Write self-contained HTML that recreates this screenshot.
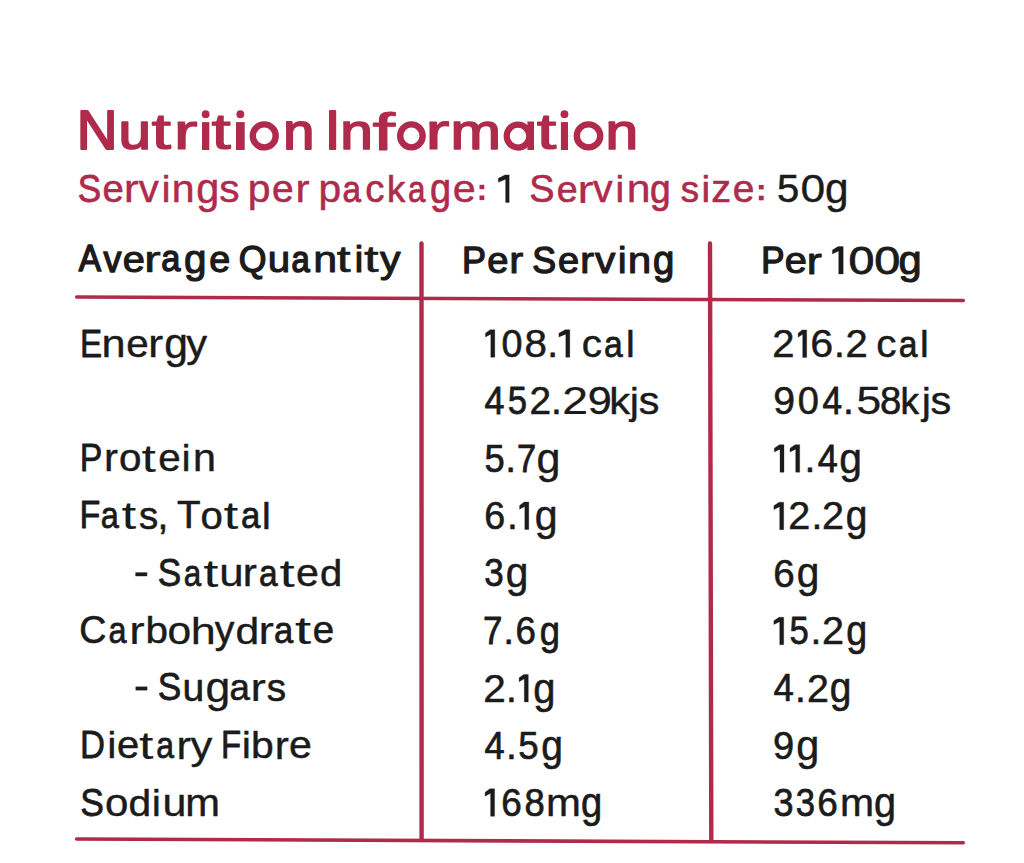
<!DOCTYPE html>
<html><head><meta charset="utf-8"><style>
html,body{margin:0;padding:0;background:#fff;}
svg{display:block;font-family:"Liberation Sans",sans-serif;}
</style></head><body>
<svg width="1024" height="863" viewBox="0 0 1024 863">
<rect width="1024" height="863" fill="#fff"/>
<line x1="76.6" y1="297" x2="963.4" y2="300.5" stroke="#AF2A4B" stroke-width="3.4" stroke-linecap="round"/>
<line x1="76.6" y1="839" x2="963.2" y2="842.8" stroke="#AF2A4B" stroke-width="3.6" stroke-linecap="round"/>
<line x1="421.5" y1="243.5" x2="421.6" y2="840" stroke="#AF2A4B" stroke-width="4.4" stroke-linecap="round"/>
<line x1="710" y1="243.5" x2="711.3" y2="841" stroke="#AF2A4B" stroke-width="4.4" stroke-linecap="round"/>
<g font-size="54.58" fill="#AF2A4B" stroke="#AF2A4B" stroke-linejoin="round"><text font-size="54.75" transform="translate(76.80 149.00) scale(1.031 1.000)" stroke-width="2.01">N</text><text font-size="54.92" transform="translate(118.59 149.14) scale(1.064 0.910)" stroke-width="1.89">u</text><text font-size="55.78" transform="translate(151.56 149.41) scale(1.264 0.910)" stroke-width="1.30">t</text><text font-size="55.89" transform="translate(173.39 149.45) scale(1.298 0.910)" stroke-width="1.22">r</text><text font-size="55.72" transform="translate(211.40 149.39) scale(1.249 0.910)" stroke-width="1.34">t</text><text font-size="54.69" transform="translate(283.35 149.07) scale(1.021 0.910)" stroke-width="2.04">n</text></g>
<g font-size="54.58" fill="#AF2A4B" stroke="#AF2A4B" stroke-linejoin="round"><text font-size="54.58" transform="translate(325.01 148.94) scale(1.000 1.000)" stroke-width="2.12">I</text><text font-size="54.94" transform="translate(340.31 149.15) scale(1.068 0.910)" stroke-width="1.87">n</text><text font-size="56.40" transform="translate(372.34 149.60) scale(1.466 0.910)" stroke-width="0.87">f</text><text font-size="55.92" transform="translate(425.35 149.45) scale(1.306 0.910)" stroke-width="1.20">r</text><text font-size="55.10" transform="translate(450.56 149.20) scale(1.100 0.910)" stroke-width="1.77">m</text><text font-size="55.78" transform="translate(536.76 149.41) scale(1.264 0.910)" stroke-width="1.30">t</text><text font-size="54.94" transform="translate(605.41 149.15) scale(1.068 0.910)" stroke-width="1.87">n</text></g>
<g font-size="39.10" fill="#AF2A4B" stroke="#AF2A4B" stroke-linejoin="round"><text font-size="38.80" transform="translate(77.84 202.01) scale(0.905 1.000)" stroke-width="0.79">S</text><text font-size="39.03" transform="translate(102.50 202.10) scale(0.980 0.970)" stroke-width="0.62">e</text><text font-size="39.53" transform="translate(123.84 202.26) scale(1.147 0.970)" stroke-width="0.29">r</text><text font-size="39.18" transform="translate(138.80 202.15) scale(1.026 0.970)" stroke-width="0.52">v</text><text font-size="39.10" transform="translate(161.81 202.13) scale(1.000 0.950)" stroke-width="0.58">i</text><text font-size="39.24" transform="translate(171.84 202.17) scale(1.044 0.970)" stroke-width="0.48">n</text><text font-size="39.27" transform="translate(196.20 203.08) scale(1.054 1.067)" stroke-width="0.46">g</text><text font-size="39.21" transform="translate(219.22 202.16) scale(1.035 0.970)" stroke-width="0.50">s</text></g>
<g font-size="39.10" fill="#AF2A4B" stroke="#AF2A4B" stroke-linejoin="round"><text font-size="39.24" transform="translate(247.68 202.17) scale(1.045 0.970)" stroke-width="0.48">p</text><text font-size="39.09" transform="translate(271.96 202.12) scale(0.997 0.970)" stroke-width="0.59">e</text><text font-size="39.34" transform="translate(295.41 202.20) scale(1.076 0.970)" stroke-width="0.42">r</text></g>
<g font-size="39.10" fill="#AF2A4B" stroke="#AF2A4B" stroke-linejoin="round"><text font-size="39.23" transform="translate(318.60 202.16) scale(1.039 0.970)" stroke-width="0.49">p</text><text font-size="38.80" transform="translate(342.44 202.02) scale(0.859 0.970)" stroke-width="0.79">a</text><text font-size="39.05" transform="translate(365.29 202.10) scale(0.983 0.970)" stroke-width="0.62">c</text><text font-size="38.90" transform="translate(387.09 202.06) scale(0.942 0.950)" stroke-width="0.72">k</text><text font-size="38.80" transform="translate(408.10 202.02) scale(0.806 0.970)" stroke-width="0.79">a</text><text font-size="39.01" transform="translate(429.92 202.99) scale(0.972 1.067)" stroke-width="0.64">g</text><text font-size="39.27" transform="translate(452.70 202.17) scale(1.052 0.970)" stroke-width="0.46">e</text></g>
<g font-size="39.10" fill="#1B1B1B" stroke="#1B1B1B" stroke-linejoin="round"></g>
<g font-size="39.10" fill="#AF2A4B" stroke="#AF2A4B" stroke-linejoin="round"><text font-size="39.00" transform="translate(529.18 202.28) scale(0.971 1.000)" stroke-width="0.65">S</text><text font-size="38.98" transform="translate(556.75 202.28) scale(0.964 0.970)" stroke-width="0.67">e</text><text font-size="39.77" transform="translate(577.14 202.54) scale(1.252 0.970)" stroke-width="0.12">r</text><text font-size="39.12" transform="translate(593.03 202.32) scale(1.004 0.970)" stroke-width="0.57">v</text><text font-size="39.10" transform="translate(615.56 202.33) scale(1.000 0.950)" stroke-width="0.58">i</text><text font-size="39.37" transform="translate(626.78 202.41) scale(1.087 0.970)" stroke-width="0.39">n</text><text font-size="38.94" transform="translate(650.07 203.17) scale(0.955 1.067)" stroke-width="0.69">g</text></g>
<g font-size="39.10" fill="#AF2A4B" stroke="#AF2A4B" stroke-linejoin="round"><text font-size="38.90" transform="translate(680.82 202.25) scale(0.944 0.970)" stroke-width="0.71">s</text><text font-size="39.10" transform="translate(701.46 202.33) scale(1.000 0.950)" stroke-width="0.58">i</text><text font-size="39.15" transform="translate(711.25 202.34) scale(1.015 0.970)" stroke-width="0.55">z</text><text font-size="39.09" transform="translate(732.76 202.32) scale(0.997 0.970)" stroke-width="0.59">e</text></g>
<g font-size="39.10" fill="#1B1B1B" stroke="#1B1B1B" stroke-linejoin="round"><text font-size="39.17" transform="translate(777.07 202.33) scale(1.021 1.000)" stroke-width="0.53">5</text><text font-size="39.48" transform="translate(800.43 202.44) scale(1.127 1.000)" stroke-width="0.32">0</text><text font-size="39.34" transform="translate(825.03 203.30) scale(1.077 1.067)" stroke-width="0.41">g</text></g>
<g font-size="37.94" fill="#1B1B1B" stroke="#1B1B1B" stroke-linejoin="round"><text font-size="37.47" transform="translate(78.66 271.40) scale(0.891 1.000)" stroke-width="1.60">A</text><text font-size="37.73" transform="translate(103.44 271.51) scale(0.950 0.970)" stroke-width="1.42">v</text><text font-size="38.10" transform="translate(122.73 271.63) scale(1.044 0.970)" stroke-width="1.17">e</text><text font-size="38.81" transform="translate(144.05 271.87) scale(1.295 0.970)" stroke-width="0.68">r</text><text font-size="37.58" transform="translate(161.27 271.46) scale(0.915 0.970)" stroke-width="1.52">a</text><text font-size="38.16" transform="translate(184.09 272.55) scale(1.061 1.067)" stroke-width="1.13">g</text><text font-size="37.91" transform="translate(209.26 271.57) scale(0.994 0.970)" stroke-width="1.30">e</text></g>
<g font-size="37.94" fill="#1B1B1B" stroke="#1B1B1B" stroke-linejoin="round"><text font-size="37.71" transform="translate(238.81 271.68) scale(0.945 1.000)" stroke-width="1.43">Q</text><text font-size="38.14" transform="translate(267.68 271.85) scale(1.056 0.970)" stroke-width="1.14">u</text><text font-size="37.39" transform="translate(291.47 271.60) scale(0.875 0.970)" stroke-width="1.66">a</text><text font-size="38.34" transform="translate(313.31 271.91) scale(1.118 0.970)" stroke-width="1.00">n</text><text font-size="38.78" transform="translate(336.74 272.06) scale(1.283 0.970)" stroke-width="0.70">t</text><text font-size="37.94" transform="translate(354.84 271.79) scale(1.000 0.950)" stroke-width="1.28">i</text><text font-size="38.93" transform="translate(363.94 272.11) scale(1.350 0.970)" stroke-width="0.60">t</text><text font-size="38.21" transform="translate(379.96 271.87) scale(1.076 0.970)" stroke-width="1.10">y</text></g>
<g font-size="37.94" fill="#1B1B1B" stroke="#1B1B1B" stroke-linejoin="round"><text font-size="37.75" transform="translate(461.93 273.10) scale(0.953 1.000)" stroke-width="1.41">P</text><text font-size="37.96" transform="translate(487.13 273.19) scale(1.005 0.970)" stroke-width="1.27">e</text><text font-size="38.28" transform="translate(509.17 273.29) scale(1.098 0.970)" stroke-width="1.05">r</text></g>
<g font-size="37.94" fill="#1B1B1B" stroke="#1B1B1B" stroke-linejoin="round"><text font-size="37.72" transform="translate(532.24 273.19) scale(0.947 1.000)" stroke-width="1.43">S</text><text font-size="37.93" transform="translate(558.05 273.28) scale(0.999 0.970)" stroke-width="1.28">e</text><text font-size="38.32" transform="translate(579.93 273.41) scale(1.110 0.970)" stroke-width="1.02">r</text><text font-size="38.17" transform="translate(594.92 273.36) scale(1.066 0.970)" stroke-width="1.12">v</text><text font-size="37.94" transform="translate(617.99 273.29) scale(1.000 0.950)" stroke-width="1.28">i</text><text font-size="38.30" transform="translate(627.86 273.40) scale(1.105 0.970)" stroke-width="1.03">n</text><text font-size="37.97" transform="translate(653.02 274.19) scale(1.009 1.067)" stroke-width="1.26">g</text></g>
<g font-size="37.94" fill="#1B1B1B" stroke="#1B1B1B" stroke-linejoin="round"><text font-size="37.62" transform="translate(761.35 273.25) scale(0.924 1.000)" stroke-width="1.50">P</text><text font-size="38.10" transform="translate(784.83 273.43) scale(1.044 0.970)" stroke-width="1.17">e</text><text font-size="38.58" transform="translate(806.49 273.59) scale(1.203 0.970)" stroke-width="0.84">r</text></g>
<g font-size="37.94" fill="#1B1B1B" stroke="#1B1B1B" stroke-linejoin="round"><text font-size="38.59" transform="translate(848.46 273.58) scale(1.206 1.000)" stroke-width="0.83">0</text><text font-size="38.61" transform="translate(874.15 273.59) scale(1.212 1.000)" stroke-width="0.82">0</text><text font-size="38.25" transform="translate(898.41 274.38) scale(1.090 1.067)" stroke-width="1.06">g</text></g>
<g font-size="39.10" fill="#1B1B1B" stroke="#1B1B1B" stroke-linejoin="round"><text font-size="38.80" transform="translate(79.91 356.71) scale(0.857 1.000)" stroke-width="0.79">E</text><text font-size="39.40" transform="translate(101.43 356.92) scale(1.100 0.970)" stroke-width="0.37">n</text><text font-size="39.20" transform="translate(126.16 356.85) scale(1.030 0.970)" stroke-width="0.51">e</text><text font-size="39.56" transform="translate(148.10 356.97) scale(1.159 0.970)" stroke-width="0.26">r</text><text font-size="39.36" transform="translate(164.22 357.80) scale(1.083 1.067)" stroke-width="0.40">g</text><text font-size="39.29" transform="translate(186.31 356.88) scale(1.061 0.970)" stroke-width="0.45">y</text></g>
<g font-size="39.10" fill="#1B1B1B" stroke="#1B1B1B" stroke-linejoin="round"><text font-size="38.99" transform="translate(501.55 356.87) scale(0.969 1.000)" stroke-width="0.65">0</text><text font-size="39.20" transform="translate(524.62 356.94) scale(1.030 1.000)" stroke-width="0.51">8</text><text font-size="39.10" transform="translate(547.21 356.91) scale(1.000 1.000)" stroke-width="0.58">.</text><text font-size="39.21" transform="translate(581.66 356.95) scale(1.032 0.970)" stroke-width="0.51">c</text><text font-size="38.80" transform="translate(603.93 356.82) scale(0.868 0.970)" stroke-width="0.79">a</text><text font-size="39.10" transform="translate(626.01 356.93) scale(1.000 0.950)" stroke-width="0.58">l</text></g>
<g font-size="39.10" fill="#1B1B1B" stroke="#1B1B1B" stroke-linejoin="round"><text font-size="39.17" transform="translate(772.16 357.14) scale(1.022 1.000)" stroke-width="0.53">2</text><text font-size="39.26" transform="translate(810.34 357.17) scale(1.051 1.000)" stroke-width="0.47">6</text><text font-size="39.10" transform="translate(834.11 357.11) scale(1.000 1.000)" stroke-width="0.58">.</text><text font-size="39.17" transform="translate(845.56 357.14) scale(1.022 1.000)" stroke-width="0.53">2</text><text font-size="39.21" transform="translate(876.36 357.15) scale(1.032 0.970)" stroke-width="0.51">c</text><text font-size="38.80" transform="translate(898.63 357.02) scale(0.868 0.970)" stroke-width="0.79">a</text><text font-size="39.10" transform="translate(919.96 357.13) scale(1.000 0.950)" stroke-width="0.58">l</text></g>
<g font-size="39.10" fill="#1B1B1B" stroke="#1B1B1B" stroke-linejoin="round"><text font-size="38.83" transform="translate(484.54 413.62) scale(0.924 1.000)" stroke-width="0.77">4</text><text font-size="38.80" transform="translate(507.87 413.61) scale(0.892 1.000)" stroke-width="0.79">5</text><text font-size="39.08" transform="translate(529.55 413.70) scale(0.994 1.000)" stroke-width="0.59">2</text><text font-size="39.10" transform="translate(550.91 413.71) scale(1.000 1.000)" stroke-width="0.58">.</text><text font-size="39.59" transform="translate(562.21 413.88) scale(1.172 1.000)" stroke-width="0.24">2</text><text font-size="39.40" transform="translate(587.66 413.81) scale(1.099 1.000)" stroke-width="0.37">9</text><text font-size="39.30" transform="translate(609.13 413.79) scale(1.064 0.950)" stroke-width="0.44">k</text><text font-size="39.10" transform="translate(630.04 413.73) scale(1.000 0.950)" stroke-width="0.58">j</text><text font-size="39.27" transform="translate(638.68 413.78) scale(1.053 0.970)" stroke-width="0.46">s</text></g>
<g font-size="39.10" fill="#1B1B1B" stroke="#1B1B1B" stroke-linejoin="round"><text font-size="39.11" transform="translate(773.14 413.91) scale(1.003 1.000)" stroke-width="0.57">9</text><text font-size="39.01" transform="translate(797.73 413.88) scale(0.974 1.000)" stroke-width="0.64">0</text><text font-size="38.80" transform="translate(822.55 413.81) scale(0.909 1.000)" stroke-width="0.79">4</text><text font-size="39.10" transform="translate(842.96 413.91) scale(1.000 1.000)" stroke-width="0.58">.</text><text font-size="39.47" transform="translate(856.49 414.04) scale(1.126 1.000)" stroke-width="0.32">5</text><text font-size="39.03" transform="translate(879.96 413.89) scale(0.980 1.000)" stroke-width="0.62">8</text><text font-size="38.92" transform="translate(900.57 413.87) scale(0.948 0.950)" stroke-width="0.70">k</text><text font-size="39.10" transform="translate(921.89 413.93) scale(1.000 0.950)" stroke-width="0.58">j</text><text font-size="39.29" transform="translate(930.47 413.98) scale(1.059 0.970)" stroke-width="0.45">s</text></g>
<g font-size="39.10" fill="#1B1B1B" stroke="#1B1B1B" stroke-linejoin="round"><text font-size="38.80" transform="translate(79.87 471.21) scale(0.873 1.000)" stroke-width="0.79">P</text><text font-size="39.30" transform="translate(103.96 471.39) scale(1.065 0.970)" stroke-width="0.44">r</text><text font-size="39.20" transform="translate(119.06 471.35) scale(1.031 0.970)" stroke-width="0.51">o</text><text font-size="39.88" transform="translate(141.62 471.58) scale(1.303 0.970)" stroke-width="0.05">t</text><text font-size="39.20" transform="translate(158.16 471.35) scale(1.030 0.970)" stroke-width="0.51">e</text><text font-size="39.10" transform="translate(181.81 471.33) scale(1.000 0.950)" stroke-width="0.58">i</text><text font-size="39.26" transform="translate(193.02 471.37) scale(1.050 0.970)" stroke-width="0.47">n</text></g>
<g font-size="39.10" fill="#1B1B1B" stroke="#1B1B1B" stroke-linejoin="round"><text font-size="38.86" transform="translate(484.40 471.63) scale(0.933 1.000)" stroke-width="0.74">5</text><text font-size="39.10" transform="translate(505.21 471.71) scale(1.000 1.000)" stroke-width="0.58">.</text><text font-size="38.80" transform="translate(516.89 471.61) scale(0.889 1.000)" stroke-width="0.79">7</text><text font-size="39.39" transform="translate(536.59 472.72) scale(1.095 1.067)" stroke-width="0.38">g</text></g>
<g font-size="39.10" fill="#1B1B1B" stroke="#1B1B1B" stroke-linejoin="round"><text font-size="39.10" transform="translate(804.46 471.91) scale(1.000 1.000)" stroke-width="0.58">.</text><text font-size="38.85" transform="translate(817.73 471.82) scale(0.929 1.000)" stroke-width="0.75">4</text><text font-size="39.24" transform="translate(839.33 472.86) scale(1.042 1.067)" stroke-width="0.49">g</text></g>
<g font-size="39.10" fill="#1B1B1B" stroke="#1B1B1B" stroke-linejoin="round"><text font-size="38.80" transform="translate(79.44 528.41) scale(0.881 1.000)" stroke-width="0.79">F</text><text font-size="38.80" transform="translate(100.76 528.42) scale(0.839 0.970)" stroke-width="0.79">a</text><text font-size="39.93" transform="translate(121.40 528.80) scale(1.331 0.970)" stroke-width="0.01">t</text><text font-size="39.06" transform="translate(139.12 528.50) scale(0.986 0.970)" stroke-width="0.61">s</text><text font-size="39.10" transform="translate(157.41 528.51) scale(1.000 1.000)" stroke-width="0.58">,</text><text font-size="39.05" transform="translate(177.06 528.49) scale(0.986 1.000)" stroke-width="0.61">T</text><text font-size="39.18" transform="translate(200.58 528.55) scale(1.026 0.970)" stroke-width="0.52">o</text><text font-size="39.94" transform="translate(223.60 528.80) scale(1.340 0.970)" stroke-width="0.00">t</text><text font-size="38.80" transform="translate(240.89 528.42) scale(0.897 0.970)" stroke-width="0.79">a</text><text font-size="39.10" transform="translate(262.11 528.53) scale(1.000 0.950)" stroke-width="0.58">l</text></g>
<g font-size="39.10" fill="#1B1B1B" stroke="#1B1B1B" stroke-linejoin="round"><text font-size="38.98" transform="translate(484.30 529.17) scale(0.966 1.000)" stroke-width="0.66">6</text><text font-size="39.10" transform="translate(507.06 529.21) scale(1.000 1.000)" stroke-width="0.58">.</text><text font-size="39.25" transform="translate(534.71 530.17) scale(1.048 1.067)" stroke-width="0.47">g</text></g>
<g font-size="39.10" fill="#1B1B1B" stroke="#1B1B1B" stroke-linejoin="round"><text font-size="39.14" transform="translate(788.30 529.42) scale(1.011 1.000)" stroke-width="0.55">2</text><text font-size="39.10" transform="translate(811.41 529.41) scale(1.000 1.000)" stroke-width="0.58">.</text><text font-size="39.14" transform="translate(822.00 529.42) scale(1.011 1.000)" stroke-width="0.55">2</text><text font-size="39.09" transform="translate(845.76 530.31) scale(0.996 1.067)" stroke-width="0.59">g</text></g>
<g font-size="39.10" fill="#1B1B1B" stroke="#1B1B1B" stroke-linejoin="round"><text font-size="38.80" transform="translate(157.74 586.21) scale(0.909 1.000)" stroke-width="0.79">S</text><text font-size="38.80" transform="translate(183.80 586.22) scale(0.810 0.970)" stroke-width="0.79">a</text><text font-size="39.94" transform="translate(203.28 586.60) scale(1.369 0.970)" stroke-width="0.00">t</text><text font-size="39.44" transform="translate(219.23 586.43) scale(1.112 0.970)" stroke-width="0.35">u</text><text font-size="39.34" transform="translate(242.81 586.40) scale(1.076 0.970)" stroke-width="0.42">r</text><text font-size="38.80" transform="translate(258.93 586.22) scale(0.863 0.970)" stroke-width="0.79">a</text><text font-size="39.94" transform="translate(279.47 586.60) scale(1.379 0.970)" stroke-width="0.00">t</text><text font-size="39.25" transform="translate(295.92 586.37) scale(1.047 0.970)" stroke-width="0.48">e</text><text font-size="39.16" transform="translate(320.09 586.35) scale(1.019 0.950)" stroke-width="0.54">d</text></g>
<g font-size="39.10" fill="#1B1B1B" stroke="#1B1B1B" stroke-linejoin="round"><text font-size="38.80" transform="translate(484.32 586.31) scale(0.902 1.000)" stroke-width="0.79">3</text><text font-size="39.22" transform="translate(505.75 587.36) scale(1.037 1.067)" stroke-width="0.50">g</text></g>
<g font-size="39.10" fill="#1B1B1B" stroke="#1B1B1B" stroke-linejoin="round"><text font-size="39.06" transform="translate(773.33 586.50) scale(0.988 1.000)" stroke-width="0.61">6</text><text font-size="39.22" transform="translate(796.65 587.46) scale(1.037 1.067)" stroke-width="0.50">g</text></g>
<g font-size="39.10" fill="#1B1B1B" stroke="#1B1B1B" stroke-linejoin="round"><text font-size="38.97" transform="translate(79.21 643.37) scale(0.963 1.000)" stroke-width="0.67">C</text><text font-size="38.80" transform="translate(108.47 643.32) scale(0.835 0.970)" stroke-width="0.79">a</text><text font-size="39.59" transform="translate(129.15 643.58) scale(1.170 0.970)" stroke-width="0.25">r</text><text font-size="39.20" transform="translate(145.47 643.46) scale(1.031 0.950)" stroke-width="0.51">b</text><text font-size="39.35" transform="translate(167.42 643.50) scale(1.081 0.970)" stroke-width="0.41">o</text><text font-size="39.51" transform="translate(190.65 643.56) scale(1.139 0.950)" stroke-width="0.30">h</text><text font-size="39.11" transform="translate(214.87 643.42) scale(1.003 0.970)" stroke-width="0.57">y</text><text font-size="39.36" transform="translate(235.52 643.51) scale(1.083 0.950)" stroke-width="0.40">d</text><text font-size="39.59" transform="translate(258.45 643.58) scale(1.170 0.970)" stroke-width="0.25">r</text><text font-size="38.80" transform="translate(274.00 643.32) scale(0.892 0.970)" stroke-width="0.79">a</text><text font-size="39.94" transform="translate(294.71 643.70) scale(1.487 0.970)" stroke-width="0.00">t</text><text font-size="39.05" transform="translate(312.79 643.40) scale(0.986 0.970)" stroke-width="0.61">e</text></g>
<g font-size="39.10" fill="#1B1B1B" stroke="#1B1B1B" stroke-linejoin="round"><text font-size="38.80" transform="translate(482.97 644.31) scale(0.900 1.000)" stroke-width="0.79">7</text><text font-size="39.10" transform="translate(503.16 644.41) scale(1.000 1.000)" stroke-width="0.58">.</text><text font-size="38.90" transform="translate(515.57 644.34) scale(0.943 1.000)" stroke-width="0.72">6</text><text font-size="38.88" transform="translate(539.82 645.24) scale(0.937 1.067)" stroke-width="0.73">g</text></g>
<g font-size="39.10" fill="#1B1B1B" stroke="#1B1B1B" stroke-linejoin="round"><text font-size="38.80" transform="translate(789.47 644.31) scale(0.892 1.000)" stroke-width="0.79">5</text><text font-size="39.10" transform="translate(810.51 644.41) scale(1.000 1.000)" stroke-width="0.58">.</text><text font-size="39.14" transform="translate(822.00 644.42) scale(1.011 1.000)" stroke-width="0.55">2</text><text font-size="38.99" transform="translate(846.34 645.28) scale(0.966 1.067)" stroke-width="0.66">g</text></g>
<g font-size="39.10" fill="#1B1B1B" stroke="#1B1B1B" stroke-linejoin="round"><text font-size="38.80" transform="translate(157.74 700.41) scale(0.909 1.000)" stroke-width="0.79">S</text><text font-size="39.10" transform="translate(182.45 700.52) scale(1.000 0.970)" stroke-width="0.58">u</text><text font-size="39.48" transform="translate(205.59 701.55) scale(1.130 1.067)" stroke-width="0.32">g</text><text font-size="38.89" transform="translate(229.61 700.45) scale(0.941 0.970)" stroke-width="0.72">a</text><text font-size="39.59" transform="translate(250.45 700.68) scale(1.170 0.970)" stroke-width="0.25">r</text><text font-size="39.08" transform="translate(266.71 700.51) scale(0.992 0.970)" stroke-width="0.60">s</text></g>
<g font-size="39.10" fill="#1B1B1B" stroke="#1B1B1B" stroke-linejoin="round"><text font-size="39.21" transform="translate(483.13 701.65) scale(1.034 1.000)" stroke-width="0.50">2</text><text font-size="39.10" transform="translate(506.06 701.61) scale(1.000 1.000)" stroke-width="0.58">.</text><text font-size="39.16" transform="translate(533.29 702.54) scale(1.019 1.067)" stroke-width="0.54">g</text></g>
<g font-size="39.10" fill="#1B1B1B" stroke="#1B1B1B" stroke-linejoin="round"><text font-size="38.89" transform="translate(773.41 701.44) scale(0.939 1.000)" stroke-width="0.73">4</text><text font-size="39.10" transform="translate(795.06 701.51) scale(1.000 1.000)" stroke-width="0.58">.</text><text font-size="39.12" transform="translate(806.92 701.52) scale(1.005 1.000)" stroke-width="0.57">2</text><text font-size="39.09" transform="translate(829.66 702.41) scale(0.996 1.067)" stroke-width="0.59">g</text></g>
<g font-size="39.10" fill="#1B1B1B" stroke="#1B1B1B" stroke-linejoin="round"><text font-size="38.80" transform="translate(80.11 758.31) scale(0.892 1.000)" stroke-width="0.79">D</text><text font-size="39.10" transform="translate(107.61 758.43) scale(1.000 0.950)" stroke-width="0.58">i</text><text font-size="39.16" transform="translate(117.09 758.44) scale(1.019 0.970)" stroke-width="0.54">e</text><text font-size="39.88" transform="translate(138.92 758.68) scale(1.303 0.970)" stroke-width="0.05">t</text><text font-size="38.80" transform="translate(156.28 758.32) scale(0.825 0.970)" stroke-width="0.79">a</text><text font-size="39.40" transform="translate(176.52 758.52) scale(1.100 0.970)" stroke-width="0.37">r</text><text font-size="39.43" transform="translate(190.45 758.53) scale(1.108 0.970)" stroke-width="0.35">y</text><text font-size="38.80" transform="translate(221.03 758.31) scale(0.850 1.000)" stroke-width="0.79">F</text><text font-size="39.10" transform="translate(241.96 758.43) scale(1.000 0.950)" stroke-width="0.58">i</text><text font-size="39.24" transform="translate(250.93 758.47) scale(1.042 0.950)" stroke-width="0.49">b</text><text font-size="39.34" transform="translate(274.81 758.50) scale(1.076 0.970)" stroke-width="0.42">r</text><text font-size="39.25" transform="translate(289.02 758.47) scale(1.047 0.970)" stroke-width="0.48">e</text></g>
<g font-size="39.10" fill="#1B1B1B" stroke="#1B1B1B" stroke-linejoin="round"><text font-size="38.87" transform="translate(484.42 758.83) scale(0.934 1.000)" stroke-width="0.74">4</text><text font-size="39.10" transform="translate(506.06 758.91) scale(1.000 1.000)" stroke-width="0.58">.</text><text font-size="38.90" transform="translate(518.37 758.84) scale(0.944 1.000)" stroke-width="0.71">5</text><text font-size="39.09" transform="translate(541.16 759.81) scale(0.996 1.067)" stroke-width="0.59">g</text></g>
<g font-size="39.10" fill="#1B1B1B" stroke="#1B1B1B" stroke-linejoin="round"><text font-size="39.02" transform="translate(772.93 758.88) scale(0.975 1.000)" stroke-width="0.64">9</text><text font-size="39.27" transform="translate(796.30 759.88) scale(1.054 1.067)" stroke-width="0.46">g</text></g>
<g font-size="39.10" fill="#1B1B1B" stroke="#1B1B1B" stroke-linejoin="round"><text font-size="38.80" transform="translate(80.23 815.91) scale(0.914 1.000)" stroke-width="0.79">S</text><text font-size="39.32" transform="translate(104.95 816.09) scale(1.070 0.970)" stroke-width="0.43">o</text><text font-size="39.22" transform="translate(128.45 816.06) scale(1.037 0.950)" stroke-width="0.50">d</text><text font-size="39.10" transform="translate(152.11 816.03) scale(1.000 0.950)" stroke-width="0.58">i</text><text font-size="39.39" transform="translate(162.50 816.11) scale(1.093 0.970)" stroke-width="0.38">u</text><text font-size="39.29" transform="translate(185.18 816.08) scale(1.061 0.970)" stroke-width="0.45">m</text></g>
<g font-size="39.10" fill="#1B1B1B" stroke="#1B1B1B" stroke-linejoin="round"><text font-size="38.92" transform="translate(501.36 815.95) scale(0.949 1.000)" stroke-width="0.70">6</text><text font-size="38.87" transform="translate(524.49 815.93) scale(0.936 1.000)" stroke-width="0.74">8</text><text font-size="39.30" transform="translate(546.07 816.09) scale(1.065 0.970)" stroke-width="0.44">m</text><text font-size="39.03" transform="translate(580.91 816.89) scale(0.978 1.067)" stroke-width="0.63">g</text></g>
<g font-size="39.10" fill="#1B1B1B" stroke="#1B1B1B" stroke-linejoin="round"><text font-size="38.84" transform="translate(773.39 815.92) scale(0.928 1.000)" stroke-width="0.76">3</text><text font-size="38.80" transform="translate(795.74 815.91) scale(0.892 1.000)" stroke-width="0.79">3</text><text font-size="38.92" transform="translate(817.36 815.95) scale(0.949 1.000)" stroke-width="0.70">6</text><text font-size="39.24" transform="translate(839.95 816.07) scale(1.043 0.970)" stroke-width="0.48">m</text><text font-size="39.14" transform="translate(874.01 816.93) scale(1.013 1.067)" stroke-width="0.55">g</text></g>
<rect x="202.00" y="122.1" width="7.30" height="27.90" fill="#AF2A4B"/><circle cx="205.65" cy="114.2" r="3.9" fill="#AF2A4B"/>
<rect x="236.00" y="122.1" width="8.70" height="27.90" fill="#AF2A4B"/><circle cx="240.35" cy="114.2" r="3.9" fill="#AF2A4B"/>
<ellipse cx="264.25" cy="135.9" rx="11.45" ry="11.5" fill="none" stroke="#AF2A4B" stroke-width="6.4"/>
<ellipse cx="411.40" cy="135.9" rx="11.20" ry="11.5" fill="none" stroke="#AF2A4B" stroke-width="6.4"/>
<ellipse cx="518.00" cy="136.1" rx="11.3" ry="11.5" fill="none" stroke="#AF2A4B" stroke-width="6.2"/><rect x="527.40" y="121.5" width="6.6" height="28.50" fill="#AF2A4B"/>
<rect x="560.90" y="122.1" width="7.10" height="27.90" fill="#AF2A4B"/><circle cx="564.45" cy="114.2" r="3.9" fill="#AF2A4B"/>
<ellipse cx="588.50" cy="135.9" rx="11.70" ry="11.5" fill="none" stroke="#AF2A4B" stroke-width="6.4"/>
<rect x="479.50" y="184.80" width="4.80" height="4.4" fill="#AF2A4B"/><rect x="479.50" y="195.50" width="4.80" height="4.6" fill="#AF2A4B"/>
<polygon points="509.20,174.90 509.20,202.40 505.60,202.40 505.60,179.34 498.30,182.24 498.30,178.34 505.00,174.90" fill="#1B1B1B" stroke="#1B1B1B" stroke-width="0.3" stroke-linejoin="round"/>
<rect x="758.80" y="185.00" width="4.90" height="4.4" fill="#AF2A4B"/><rect x="758.80" y="195.70" width="4.90" height="4.6" fill="#AF2A4B"/>
<polygon points="843.20,246.60 843.20,274.00 838.70,274.00 838.70,251.03 832.40,253.93 832.40,250.03 838.10,246.60" fill="#1B1B1B" stroke="#1B1B1B" stroke-width="0.3" stroke-linejoin="round"/>
<polygon points="494.80,329.70 494.80,357.20 490.80,357.20 490.80,334.14 485.50,337.04 485.50,333.14 490.20,329.70" fill="#1B1B1B" stroke="#1B1B1B" stroke-width="0.3" stroke-linejoin="round"/>
<polygon points="569.80,329.70 569.80,357.20 565.80,357.20 565.80,334.14 558.90,337.04 558.90,333.14 565.20,329.70" fill="#1B1B1B" stroke="#1B1B1B" stroke-width="0.3" stroke-linejoin="round"/>
<polygon points="806.70,329.90 806.70,357.40 802.70,357.40 802.70,334.34 798.10,337.24 798.10,333.34 802.10,329.90" fill="#1B1B1B" stroke="#1B1B1B" stroke-width="0.3" stroke-linejoin="round"/>
<polygon points="784.00,444.70 784.00,472.20 780.00,472.20 780.00,449.14 774.30,452.04 774.30,448.14 779.40,444.70" fill="#1B1B1B" stroke="#1B1B1B" stroke-width="0.3" stroke-linejoin="round"/>
<polygon points="799.70,444.70 799.70,472.20 795.70,472.20 795.70,449.14 790.00,452.04 790.00,448.14 795.10,444.70" fill="#1B1B1B" stroke="#1B1B1B" stroke-width="0.3" stroke-linejoin="round"/>
<polygon points="528.80,502.00 528.80,529.50 524.80,529.50 524.80,506.44 519.60,509.34 519.60,505.44 524.20,502.00" fill="#1B1B1B" stroke="#1B1B1B" stroke-width="0.3" stroke-linejoin="round"/>
<polygon points="783.70,502.20 783.70,529.70 779.70,529.70 779.70,506.64 773.90,509.54 773.90,505.64 779.10,502.20" fill="#1B1B1B" stroke="#1B1B1B" stroke-width="0.3" stroke-linejoin="round"/>
<rect x="135.40" y="572.40" width="11.80" height="3.8" fill="#1B1B1B"/>
<polygon points="783.70,617.20 783.70,644.70 779.70,644.70 779.70,621.64 773.90,624.54 773.90,620.64 779.10,617.20" fill="#1B1B1B" stroke="#1B1B1B" stroke-width="0.3" stroke-linejoin="round"/>
<rect x="135.60" y="686.60" width="11.70" height="3.8" fill="#1B1B1B"/>
<polygon points="528.30,674.40 528.30,701.90 524.30,701.90 524.30,678.84 519.10,681.74 519.10,677.84 523.70,674.40" fill="#1B1B1B" stroke="#1B1B1B" stroke-width="0.3" stroke-linejoin="round"/>
<polygon points="494.60,788.80 494.60,816.30 490.60,816.30 490.60,793.24 485.10,796.14 485.10,792.24 490.00,788.80" fill="#1B1B1B" stroke="#1B1B1B" stroke-width="0.3" stroke-linejoin="round"/>
</svg>
</body></html>
